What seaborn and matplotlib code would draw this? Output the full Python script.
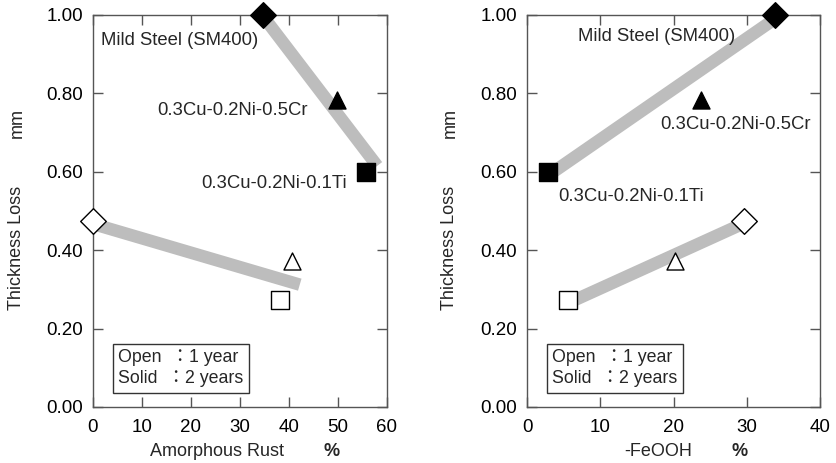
import numpy as np
import pandas as pd
import seaborn as sns
import matplotlib.pyplot as plt
from matplotlib.ticker import FormatStrFormatter

# data
alloys = ["Mild Steel (SM400)", "0.3Cu-0.2Ni-0.5Cr", "0.3Cu-0.2Ni-0.1Ti"]
markers = ["D", "^", "s"]
amorphous_2y = [34.7, 49.7, 55.8]
amorphous_1y = [0.0, 40.6, 38.2]
feooh_2y = [33.9, 23.7, 2.9]
feooh_1y = [29.6, 20.2, 5.6]
loss_2y = [1.00, 0.783, 0.600]
loss_1y = [0.474, 0.372, 0.272]

# gray trend bands (end points)
amorph_fit_2y_x = [34.5, 58.0]
amorph_fit_2y_y = [1.00, 0.615]
amorph_fit_1y_x = [0.0, 42.2]
amorph_fit_1y_y = [0.467, 0.312]
feooh_fit_2y_x = [3.0, 34.0]
feooh_fit_2y_y = [0.592, 0.992]
feooh_fit_1y_x = [5.6, 30.0]
feooh_fit_1y_y = [0.265, 0.472]

df = pd.DataFrame({
    "alloy": alloys * 2,
    "year": [2] * 3 + [1] * 3,
    "amorphous": amorphous_2y + amorphous_1y,
    "feooh": feooh_2y + feooh_1y,
    "loss": loss_2y + loss_1y,
})

sns.set_theme(style="ticks")
plt.rcParams["font.family"] = ["Liberation Sans", "Noto Sans CJK JP"]
plt.rcParams["axes.edgecolor"] = "#555555"
plt.rcParams["xtick.color"] = "#555555"
plt.rcParams["ytick.color"] = "#555555"
plt.rcParams["xtick.labelcolor"] = "black"
plt.rcParams["ytick.labelcolor"] = "black"

fig = plt.figure(figsize=(8.36, 4.63), dpi=100)
axL = fig.add_axes([0.1112, 0.1210, 0.3517, 0.8467])
axR = fig.add_axes([0.6304, 0.1210, 0.3505, 0.8467])

band = dict(color="#bdbdbd", linewidth=9, solid_capstyle="butt", zorder=1)

def draw(ax, xcol, fits, xmax, box_x):
    for fx, fy in fits:
        sns.lineplot(x=fx, y=fy, ax=ax, legend=False, **band)
    for alloy, m in zip(alloys, markers):
        size = {"D": 170, "^": 150, "s": 150}[m]
        d2 = df[(df.alloy == alloy) & (df.year == 2)]
        d1 = df[(df.alloy == alloy) & (df.year == 1)]
        sns.scatterplot(data=d2, x=xcol, y="loss", ax=ax, marker=m, s=size,
                        color="black", edgecolor="black", linewidth=1,
                        zorder=3, clip_on=False, legend=False)
        sns.scatterplot(data=d1, x=xcol, y="loss", ax=ax, marker=m, s=size,
                        facecolor="white", edgecolor="black", linewidth=1,
                        zorder=3, clip_on=False, legend=False)
    ax.set_xlim(0, xmax)
    ax.set_ylim(0, 1.0)
    ax.set_xticks(np.arange(0, xmax + 1, 10))
    ax.set_yticks(np.arange(0, 1.01, 0.2))
    ax.yaxis.set_major_formatter(FormatStrFormatter("%.2f"))
    ax.tick_params(direction="in", length=7, width=1, top=True, right=True,
                   labelsize=13.5)
    ax.tick_params(axis="y", pad=7)
    ax.tick_params(axis="x", pad=9)
    for sp in ax.spines.values():
        sp.set_visible(True)
        sp.set_linewidth(1)
    ax.set_xlabel("")
    ax.set_ylabel("")
    ax.text(box_x, 0.05, "Open  ：1 year\nSolid  ：2 years", transform=ax.transAxes,
            fontsize=12.8, linespacing=1.3, va="bottom", ha="left",
            bbox=dict(boxstyle="square,pad=0.3", facecolor="white",
                      edgecolor="#333333", linewidth=1))

draw(axL, "amorphous",
     [(amorph_fit_2y_x, amorph_fit_2y_y), (amorph_fit_1y_x, amorph_fit_1y_y)], 60, 0.085)
draw(axR, "feooh",
     [(feooh_fit_2y_x, feooh_fit_2y_y), (feooh_fit_1y_x, feooh_fit_1y_y)], 40, 0.085)

fs = 13.3
axL.text(1.6, 0.936, alloys[0], fontsize=fs, va="center", ha="left")
axL.text(43.9, 0.757, alloys[1], fontsize=fs, va="center", ha="right")
axL.text(51.8, 0.571, alloys[2], fontsize=fs, va="center", ha="right")
axR.text(7.0, 0.946, alloys[0], fontsize=fs, va="center", ha="left")
axR.text(18.2, 0.72, alloys[1], fontsize=fs, va="center", ha="left")
axR.text(4.2, 0.538, alloys[2], fontsize=fs, va="center", ha="left")

# axis labels
fs2 = 13
fig.text(217 / 836, 1 - 452 / 463, "Amorphous Rust", fontsize=fs2, ha="center", va="center")
fig.text(332 / 836, 1 - 452 / 463, "%", fontsize=fs2, ha="center", va="center", fontweight="bold")
fig.text(658 / 836, 1 - 452 / 463, "-FeOOH", fontsize=fs2, ha="center", va="center")
fig.text(740 / 836, 1 - 452 / 463, "%", fontsize=fs2, ha="center", va="center", fontweight="bold")
for xp in (17, 450):
    fig.text(xp / 836, 1 - 248 / 463, "Thickness Loss", fontsize=fs2, rotation=90,
             ha="center", va="center")
    fig.text(xp / 836, 1 - 123 / 463, "mm", fontsize=fs2, rotation=90,
             ha="center", va="center")

fig.savefig("out.png", dpi=100)
